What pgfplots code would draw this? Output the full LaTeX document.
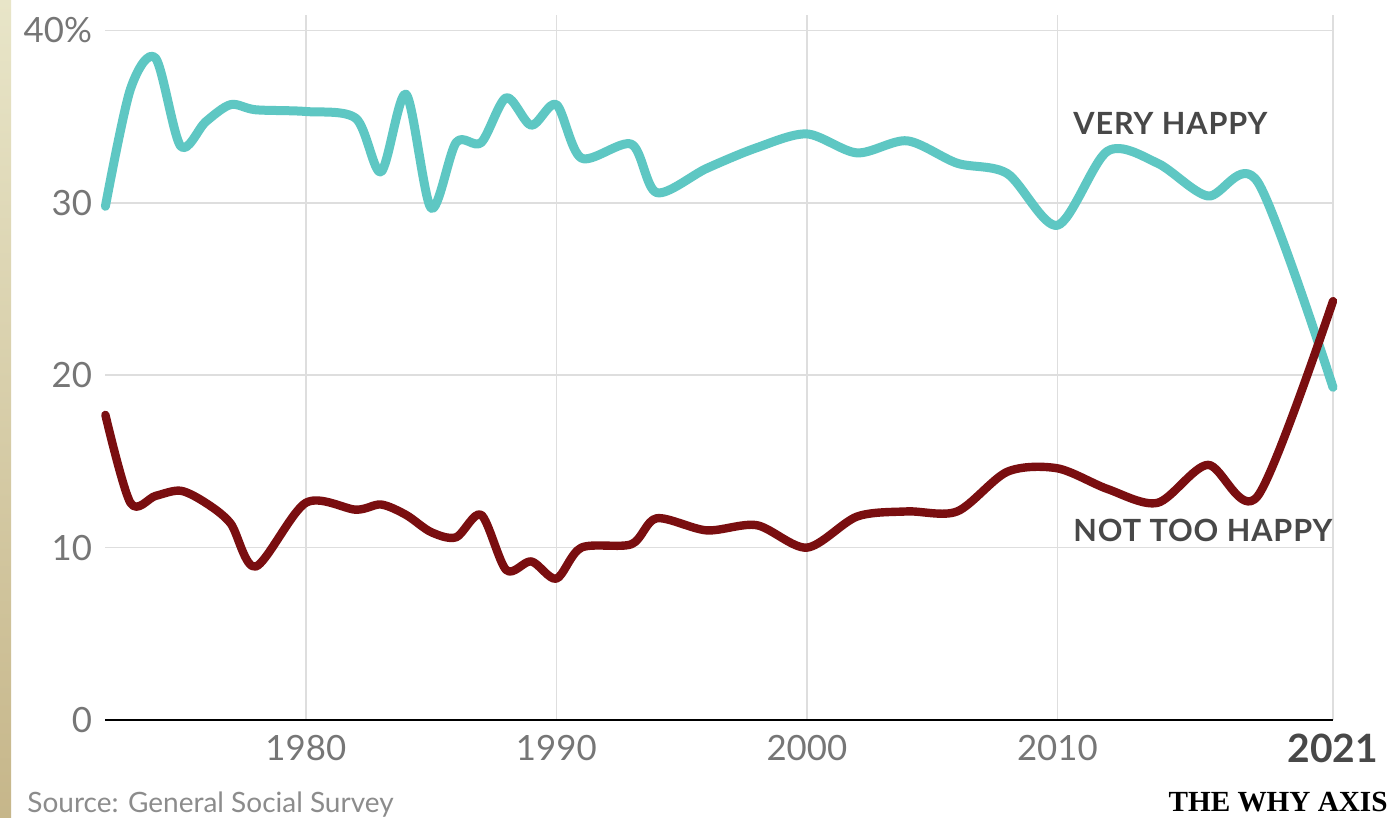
\documentclass[border=0pt]{standalone}
\usepackage{pgfplots}
\pgfplotsset{compat=1.18}
\usepackage{fontspec}
\setmainfont{Lato}
\newfontfamily\labfont[LetterSpace=3.0]{Lato}
\newfontfamily\brandfont{Liberation Serif}

\definecolor{teal}{RGB}{94,199,195}
\definecolor{maroon}{RGB}{122,14,16}
\definecolor{tickgray}{RGB}{118,118,118}
\definecolor{srcgray}{RGB}{140,140,140}
\definecolor{labgray}{RGB}{72,72,72}
\definecolor{gridgray}{RGB}{222,222,222}
\definecolor{stripTop}{RGB}{232,229,200}
\definecolor{stripBot}{RGB}{198,182,138}

% share of respondents, General Social Survey
\pgfplotstableread{
year value
1972 29.8
1973 36.6
1974 38.4
1975 33.3
1976 34.7
1977 35.7
1978 35.4
1980 35.3
1982 34.9
1983 31.8
1984 36.3
1985 29.7
1986 33.5
1987 33.5
1988 36.1
1989 34.5
1990 35.7
1991 32.6
1993 33.4
1994 30.6
1996 32.0
1998 33.2
2000 34.0
2002 32.9
2004 33.6
2006 32.3
2008 31.7
2010 28.7
2012 33.0
2014 32.3
2016 30.4
2018 31.2
2021 19.3
}\veryhappy

\pgfplotstableread{
year value
1972 17.7
1973 12.6
1974 13.0
1975 13.3
1976 12.6
1977 11.4
1978 8.9
1980 12.6
1982 12.2
1983 12.5
1984 11.9
1985 10.9
1986 10.6
1987 11.9
1988 8.7
1989 9.2
1990 8.2
1991 10.0
1993 10.2
1994 11.7
1996 11.0
1998 11.3
2000 10.0
2002 11.8
2004 12.1
2006 12.1
2008 14.4
2010 14.6
2012 13.4
2014 12.6
2016 14.8
2018 13.0
2021 24.3
}\nottoohappy

\begin{document}
\begin{tikzpicture}
% page background and the textured strip on the left
\fill[white] (0,0) rectangle (697pt,409pt);
\shade[top color=stripTop, bottom color=stripBot] (0,0) rectangle (5.5pt,409pt);

\begin{axis}[
  at={(52.7pt,49pt)}, anchor=south west,
  scale only axis,
  width=613.8pt, height=352.5pt,
  xmin=1972, xmax=2021, ymin=0, ymax=40.9,
  axis line style={draw=none},
  axis x line*=bottom, axis y line*=left,
  major tick length=0pt,
  xtick={1980,1990,2000,2010,2021},
  xticklabels={1980,1990,2000,2010,{\color{labgray}\bfseries\fontsize{19.5}{22}\selectfont 2021}},
  ytick={0,10,20,30,40},
  yticklabels={0,10,20,30,40\%},
  /pgf/number format/assume math mode=true,
  ticklabel style={font=\fontsize{17.4}{20}\selectfont, text=tickgray},
  xticklabel style={anchor=center, yshift=-14pt},
  yticklabel style={anchor=east, inner sep=0pt, xshift=-6.5pt},
  xmajorgrids, ymajorgrids,
  grid style={draw=gridgray, line width=0.8pt},
  clip=false,
]
% baseline at zero
\draw[black, line width=1.1pt] (axis cs:1972,0) -- (axis cs:2021,0);

\addplot[teal, line width=4.5pt, line cap=round, line join=round,
  smooth, tension=0.5, no markers] table[x=year, y=value] {\veryhappy};
\addplot[maroon, line width=4.2pt, line cap=round, line join=round,
  smooth, tension=0.5, no markers] table[x=year, y=value] {\nottoohappy};
\end{axis}

% series labels
\node[anchor=west, inner sep=0pt, text=labgray,
  font=\labfont\bfseries\fontsize{15.3}{18}\selectfont] at (536.5pt,347.5pt) {VERY HAPPY};
\node[anchor=west, inner sep=0pt, text=labgray,
  font=\labfont\bfseries\fontsize{15.3}{18}\selectfont] at (536.5pt,144pt) {NOT TOO HAPPY};

% footer
\node[anchor=base west, inner sep=0pt, text=srcgray,
  font=\fontsize{14}{16}\selectfont] at (13.5pt,2.8pt) {Source: General Social Survey};
\node[anchor=base east, inner sep=0pt, text=black,
  font=\brandfont\bfseries\fontsize{14.6}{17}\selectfont] at (694pt,3pt) {THE WHY AXIS};
\end{tikzpicture}
\end{document}
